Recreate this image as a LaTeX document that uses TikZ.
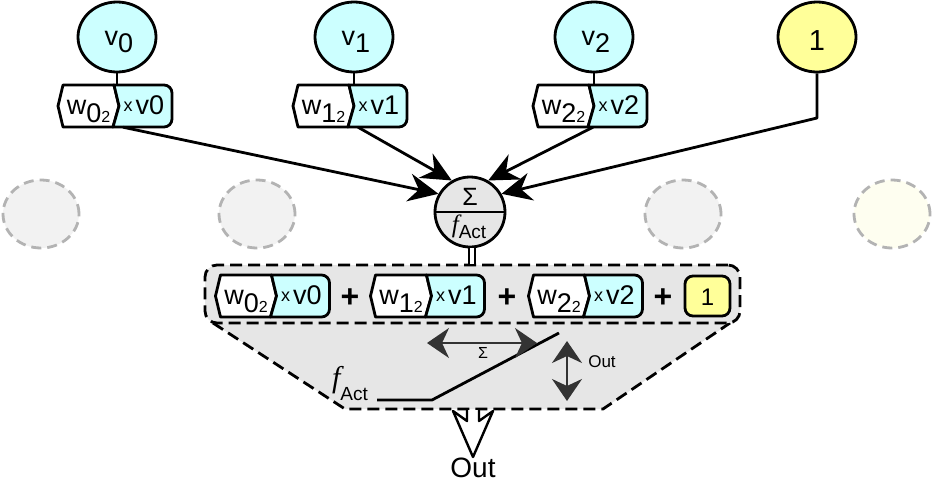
\documentclass[tikz,border=0pt]{standalone}
\usepackage{fontspec}
\setmainfont{Liberation Sans}
\newfontfamily\serifit{Liberation Serif}
\usetikzlibrary{arrows.meta,calc,shapes.geometric}
\definecolor{cyanf}{HTML}{CCFFFF}
\definecolor{yellf}{HTML}{FFFF99}
\definecolor{boxfill}{HTML}{E6E6E6}
\definecolor{ghostfill}{HTML}{F2F2F2}
\definecolor{ghostline}{HTML}{B3B3B3}
\definecolor{ghostyell}{HTML}{FEFEF0}
\definecolor{darkg}{HTML}{333333}
\newcommand\fsz[1]{\fontsize{#1}{#1}\selectfont}
\newcommand\factlab[4]{{\serifit\itshape\fsz{#1}f}\raisebox{#3}{\fsz{#2}Act}}
\newcommand\wlab[1]{\fsz{27}w\raisebox{-8pt}{#1{\fsz{16}2}}}
\newcommand\vlab[1]{\raisebox{3pt}{\fsz{18}x}\hspace{3pt}\fsz{27}v#1}
\newcommand\wxbox[5]{%
  \node[boxanchor] (#1) at (#2,#3) {};
  \path[fill=white, draw, line width=2.8pt] ({#2-57},#3) -- ({#2-52},{#3-21}) -- ({#2-1},{#3-21}) -- ({#2+4},#3) -- ({#2-2},{#3+21}) -- ({#2-52},{#3+21}) -- cycle;
  \path[fill=cyanf, draw, line width=2.8pt] ({#2-1},{#3-21}) -- ({#2+49},{#3-21}) arc[start angle=-90,end angle=0,radius=8] -- ({#2+57},{#3+13}) arc[start angle=0,end angle=90,radius=8] -- ({#2-2},{#3+21}) -- ({#2+4},#3) -- cycle;
  \node[txt] (#1w) at ({#2-26.5},{#3+8}) {\wlab{#4}};
  \node[txt] (#1v) at ({#2+29},{#3+8}) {\vlab{#5}};
}
\begin{document}
\begin{tikzpicture}[x=1pt,y=-1pt,line join=round,
  vnode/.style={ellipse, draw, line width=2.8pt, fill=cyanf, minimum width=78pt, minimum height=70pt, inner sep=0pt},
  ghost/.style={ellipse, draw=ghostline, dash pattern=on 10pt off 6pt, line width=2.8pt, fill=ghostfill, minimum width=76pt, minimum height=68pt, inner sep=0pt},
  boxanchor/.style={minimum width=114pt, minimum height=42pt, inner sep=0pt},
  txt/.style={anchor=base, inner sep=0pt},
  conn/.style={line width=2.8pt},
  arr/.style={line width=2.8pt, -{Stealth[length=30pt,width=28pt,inset=10pt]}},
  darr/.style={draw=darkg, line width=2.4pt, {Stealth[length=22pt,width=30pt,inset=7pt]}-{Stealth[length=22pt,width=30pt,inset=7pt]}},
  dashbox/.style={draw, line width=2.8pt, dash pattern=on 12pt off 6pt, fill=boxfill}
]
\useasboundingbox (0,0) rectangle (935,483);

% ghost circles
\node[ghost] (g0) at (41,214) {};
\node[ghost] (g1) at (257,214) {};
\node[ghost] (g2) at (683,214) {};
\node[ghost, fill=ghostyell] (g3) at (892,214) {};

% input circles
\node[vnode] (v0) at (117,37) {};
\node[vnode] (v1) at (354,37) {};
\node[vnode] (v2) at (594,37) {};
\node[vnode, fill=yellf] (one) at (817,37) {};
\node[txt] at (119,45) {\fsz{27}v\raisebox{-7pt}{0}};
\node[txt] at (356,45) {\fsz{27}v\raisebox{-7pt}{1}};
\node[txt] at (596,45) {\fsz{27}v\raisebox{-7pt}{2}};
\node[txt] at (817,50) {\fsz{29}1};

% weight boxes
\wxbox{b0}{115}{106}{0}{0}
\wxbox{b1}{350}{106}{1}{1}
\wxbox{b2}{590}{106}{2}{2}
\draw[conn] (v0.south) -- (v0.south |- b0.north);
\draw[conn] (v1.south) -- (v1.south |- b1.north);
\draw[conn] (v2.south) -- (v2.south |- b2.north);

% neuron
\node[circle, draw, line width=2.8pt, fill=boxfill, minimum size=70pt, inner sep=0pt] (sig) at (470,212) {};
\draw[line width=2.8pt] (sig.west) -- (sig.east);
\node[txt] at (470,205) {\fsz{25}Σ};
\node[txt] at (469,232) {\factlab{25}{19}{-6pt}{}};

\coordinate (bend) at (817,118);
\draw[arr] ([xshift=8pt]b0.south) -- (sig.150);
\draw[arr] ([xshift=8pt]b1.south) -- (sig.120);
\draw[arr] ([xshift=3pt]b2.south) -- (sig.60);
\draw[arr] (one.south) -- (bend) -- (sig.30);

% expanded view
\path[dashbox] (213,323) -- (345,409) -- (603,409) -- (730,323);
\node[dashbox, rounded corners=12pt, minimum width=535pt, minimum height=58pt, inner sep=0pt] (sumbox) at (472.5,294) {};
\draw[line width=2pt, double, double distance=3.5pt] ([xshift=2pt]sig.south) -- ([xshift=2pt]sig.south |- sumbox.north);

\wxbox{c0}{272.5}{296}{0}{0}
\wxbox{c1}{427.5}{296}{1}{1}
\wxbox{c2}{585.5}{296}{2}{2}
\node[txt] (p1) at (350,307) {\fsz{32}\bfseries +};
\node[txt] (p2) at (507,307) {\fsz{32}\bfseries +};
\node[txt] (p3) at (663,307) {\fsz{32}\bfseries +};
\node[draw, line width=2.8pt, fill=yellf, rounded corners=8pt, minimum width=45pt, minimum height=40pt, inner sep=0pt] (cone) at (707.5,296) {};
\node[txt] at (707.5,305) {\fsz{24}1};

% activation sketch
\coordinate (fa) at (377,400);
\coordinate (fb) at (432,400);
\coordinate (fc) at (559,333);
\draw[line width=2.8pt] (fa) -- (fb) -- (fc);
\coordinate (sl) at (427,343);
\coordinate (sr) at (537,343);
\draw[darr] (sl) -- (sr);
\coordinate (ot) at (567,341);
\coordinate (ob) at (567,401);
\draw[darr] (ot) -- (ob);
\node[txt] at (483,358) {\fsz{16}Σ};
\node[txt] at (602,367) {\fsz{17}Out};
\node[txt] at (350,387) {\factlab{30}{19}{-13pt}{}};

% output arrow
\node[txt] (out) at (473,477) {\fsz{28}Out};
\coordinate (oa) at (473,410);
\draw[line width=2.4pt, fill=white] ($(oa)+(-6,0)$) -- ++(0,11) -- ($(oa)+(-20,1)$) -- ($(oa)+(0,47)$) -- ($(oa)+(20,1)$) -- ($(oa)+(6,11)$) -- ($(oa)+(6,0)$);
\end{tikzpicture}
\end{document}
